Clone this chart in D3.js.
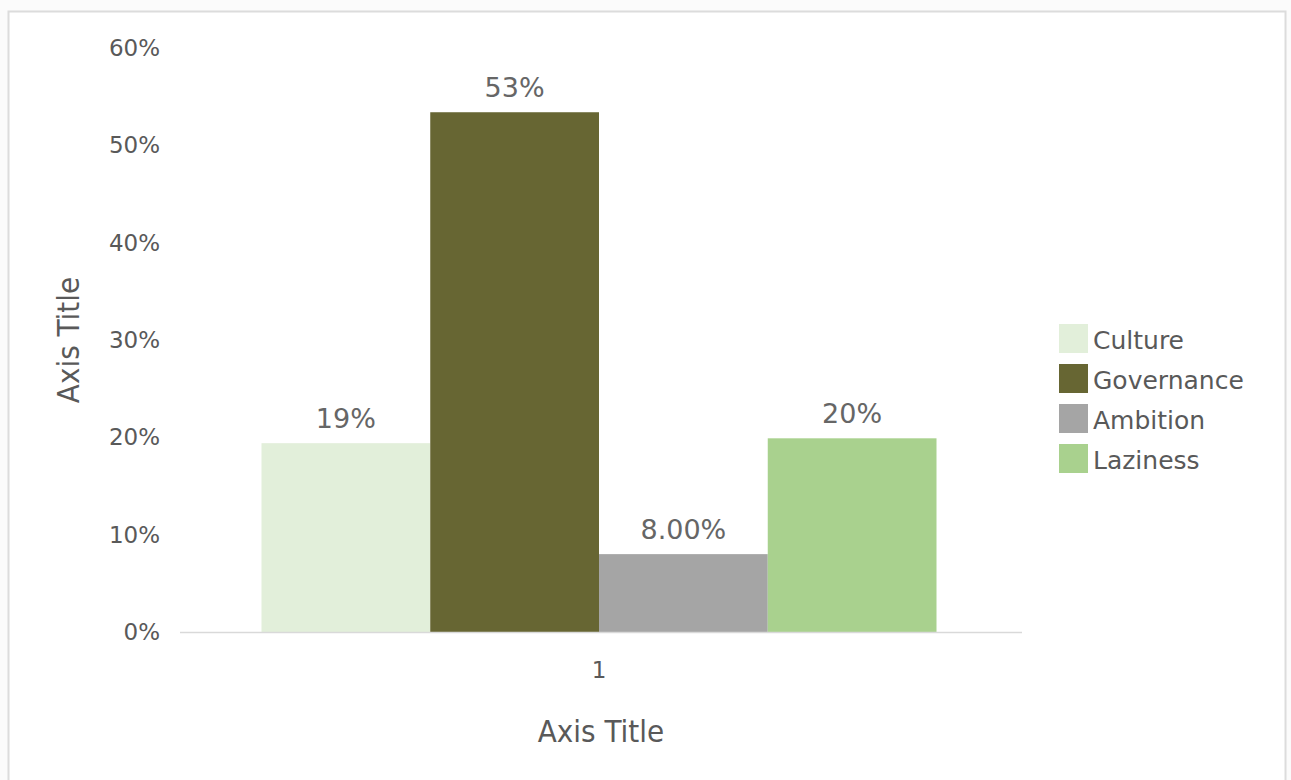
<!DOCTYPE html>
<html>
<head>
<meta charset="utf-8">
<script src="https://cdn.jsdelivr.net/npm/d3@7"></script>
<style>
  html, body { margin: 0; padding: 0; background: #fbfbfb; }
  svg { display: block; }
</style>
</head>
<body>
<svg id="chart" width="1291" height="780"></svg>
<script>
// Survey shares for the single category "1"
const categories = ["1"];
const seriesNames = ["Culture", "Governance", "Ambition", "Laziness"];
const seriesValues = [0.194, 0.534, 0.08, 0.199];
const labelFormats = [".0%", ".0%", ".2%", ".0%"];
const seriesColors = ["#e2efda", "#676633", "#a5a5a5", "#a9d18e"];
const yTicks = [0, 0.1, 0.2, 0.3, 0.4, 0.5, 0.6];

const svg = d3.select("#chart");
const font = "'DejaVu Sans', 'Open Sans', sans-serif";
const titleFont = "'Liberation Sans Narrow', 'DejaVu Sans Condensed', sans-serif";
const textColor = "#595959";

// chart area frame
svg.append("rect")
  .attr("x", 8.5).attr("y", 11.5)
  .attr("width", 1277).attr("height", 800)
  .attr("fill", "#ffffff")
  .attr("stroke", "#dcdcdc").attr("stroke-width", 2);

const plot = { left: 178, right: 1020, top: 48, bottom: 632 };

const y = d3.scaleLinear().domain([0, 0.6]).range([plot.bottom, plot.top]);
const x0 = d3.scaleBand().domain(categories).range([plot.left, plot.right]).paddingInner(0).paddingOuter(0.1237);
const x1 = d3.scaleBand().domain(seriesNames).range([0, x0.bandwidth()]).padding(0);

// y axis labels
const yAxis = d3.axisLeft(y).tickValues(yTicks).tickFormat(d3.format(".0%")).tickSize(0).tickPadding(18);
const gy = svg.append("g").attr("transform", `translate(${plot.left},0)`).call(yAxis);
gy.select(".domain").remove();
gy.selectAll("text").attr("font-family", font).attr("font-size", 23).attr("fill", textColor);

// bars
const data = seriesNames.map((name, i) => ({ name, value: seriesValues[i], fmt: labelFormats[i], color: seriesColors[i] }));
const g = svg.append("g").attr("transform", `translate(${x0(categories[0])},0)`);
g.selectAll("rect.bar").data(data).join("rect")
  .attr("class", "bar")
  .attr("x", d => x1(d.name))
  .attr("width", x1.bandwidth())
  .attr("y", d => y(d.value))
  .attr("height", d => y(0) - y(d.value))
  .attr("fill", d => d.color);

// value labels
g.selectAll("text.val").data(data).join("text")
  .attr("class", "val")
  .attr("x", d => x1(d.name) + x1.bandwidth() / 2)
  .attr("y", d => y(d.value) - 15)
  .attr("text-anchor", "middle")
  .attr("font-family", font).attr("font-size", 27).attr("fill", "#666666")
  .text(d => d3.format(d.fmt)(d.value));

// x axis baseline and category label
const xAxis = d3.axisBottom(x0).tickSize(0).tickPadding(30);
const gx = svg.append("g").attr("transform", `translate(0,${plot.bottom})`).call(xAxis);
gx.select(".domain").attr("stroke", "#d9d9d9").attr("stroke-width", 1.5)
  .attr("d", `M${plot.left + 2},0.5H${plot.right + 2}`);
gx.selectAll("text").attr("font-family", font).attr("font-size", 23).attr("fill", textColor);

// axis titles
svg.append("text")
  .attr("x", 601).attr("y", 742)
  .attr("text-anchor", "middle")
  .attr("font-family", titleFont)
  .attr("font-size", 31).attr("fill", textColor)
  .text("Axis Title");
svg.append("text")
  .attr("transform", "translate(79,340) rotate(-90)")
  .attr("text-anchor", "middle")
  .attr("font-family", titleFont)
  .attr("font-size", 31).attr("fill", textColor)
  .text("Axis Title");

// legend
const legend = svg.append("g").attr("transform", "translate(1059,324)");
const items = legend.selectAll("g").data(data).join("g")
  .attr("transform", (d, i) => `translate(0,${i * 40})`);
items.append("rect").attr("width", 29).attr("height", 29).attr("fill", d => d.color);
items.append("text").attr("x", 34).attr("y", 25)
  .attr("font-family", font)
  .attr("font-size", 25).attr("fill", textColor)
  .text(d => d.name);
</script>
</body>
</html>
